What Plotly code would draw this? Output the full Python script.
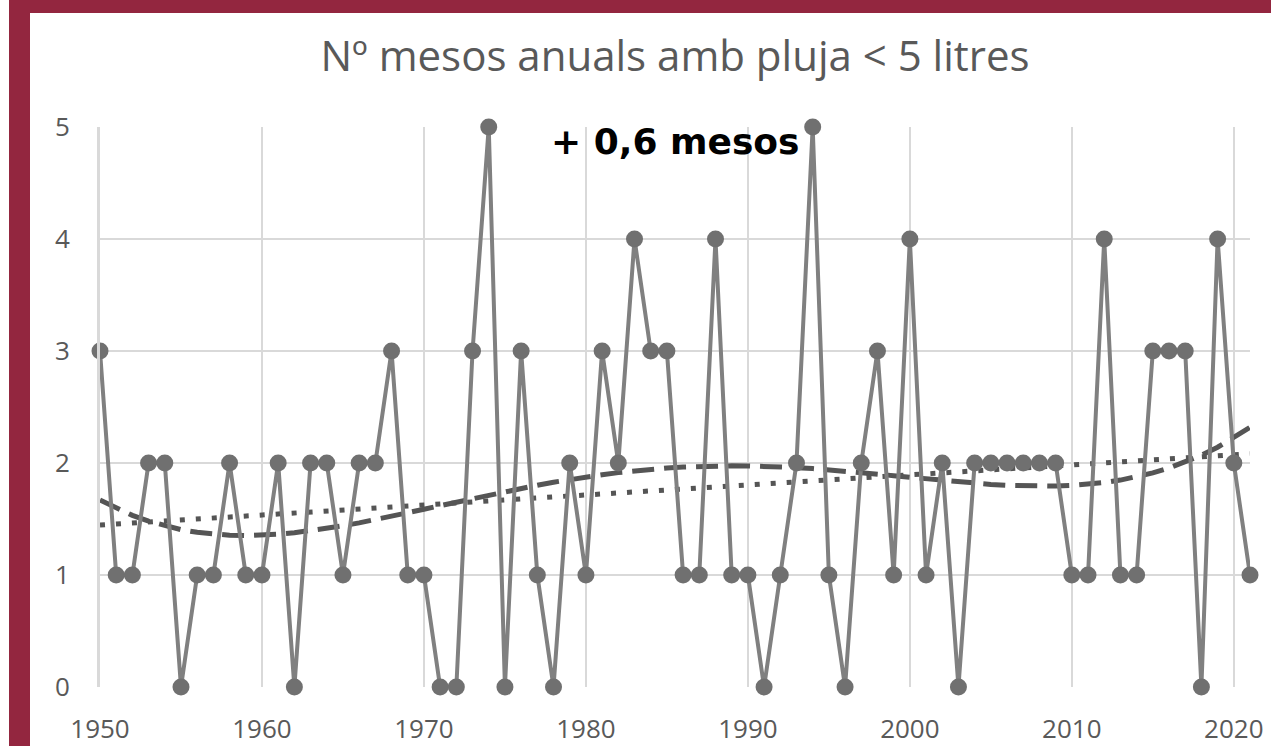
import numpy as np
import plotly.graph_objects as go

years = list(range(1950, 2022))
months_dry = [3, 1, 1, 2, 2, 0, 1, 1, 2, 1,
              1, 2, 0, 2, 2, 1, 2, 2, 3, 1,
              1, 0, 0, 3, 5, 0, 3, 1, 0, 2,
              1, 3, 2, 4, 3, 3, 1, 1, 4, 1,
              1, 0, 1, 2, 5, 1, 0, 2, 3, 1,
              4, 1, 2, 0, 2, 2, 2, 2, 2, 2,
              1, 1, 4, 1, 1, 3, 3, 3, 0, 4,
              2, 1]
x_ticks = [1950, 1960, 1970, 1980, 1990, 2000, 2010, 2020]
y_ticks = [0, 1, 2, 3, 4, 5]
title_text = "Nº mesos anuals amb pluja < 5 litres"
trend_label = "+ 0,6 mesos"

# Trendlines fitted from the data (linear and polynomial, as in the spreadsheet)
xa = np.array(years, dtype=float)
ya = np.array(months_dry, dtype=float)
xc = xa - xa.mean()
lin = np.polyval(np.polyfit(xc, ya, 1), xc)
poly = np.polyval(np.polyfit(xc, ya, 4), xc)

RED = "#93263f"
GRID = "#d9d9d9"
TXT = "#595959"
FONT = "Open Sans"

fig = go.Figure()
fig.add_trace(go.Scatter(x=years, y=lin, mode="lines",
                         line=dict(color="#555555", width=5, dash="5px,11px"),
                         hoverinfo="skip", showlegend=False))
fig.add_trace(go.Scatter(x=years, y=poly, mode="lines",
                         line=dict(color="#555555", width=5, dash="22px,10px"),
                         hoverinfo="skip", showlegend=False))
fig.add_trace(go.Scatter(x=years, y=months_dry, mode="lines+markers",
                         line=dict(color="#808080", width=4),
                         marker=dict(color="#707070", size=17),
                         cliponaxis=False, showlegend=False))

L, R, T, B = 100, 21, 127, 59
W, H = 1271, 746
pw = W - L - R
ph = H - T - B

def px_x(p):
    return (p - L) / pw

def px_y(q):
    return (H - B - q) / ph

shapes = [
    dict(type="rect", xref="paper", yref="paper", layer="below",
         x0=px_x(9), x1=px_x(30), y0=px_y(800), y1=px_y(-20),
         fillcolor=RED, line=dict(width=0)),
    dict(type="rect", xref="paper", yref="paper", layer="below",
         x0=px_x(9), x1=px_x(1300), y0=px_y(13), y1=px_y(-20),
         fillcolor=RED, line=dict(width=0)),
]

fig.update_layout(
    width=W, height=H,
    margin=dict(l=L, r=R, t=T, b=B),
    paper_bgcolor="white", plot_bgcolor="white",
    shapes=shapes,
    title=dict(text=title_text, x=675 / W, xanchor="center",
               y=1 - 56 / H, yanchor="middle",
               font=dict(family=FONT, size=42, color=TXT)),
    annotations=[dict(text="<b>" + trend_label + "</b>", xref="paper", yref="paper",
                      x=px_x(675), y=px_y(141), xanchor="center", yanchor="middle",
                      showarrow=False,
                      font=dict(family="DejaVu Sans", size=36, color="#000000"))],
    xaxis=dict(range=[1950, 2021], tickvals=x_ticks, showgrid=True,
               gridcolor=GRID, gridwidth=2, zeroline=False, showline=False,
               ticks="", ticklabelstandoff=24, automargin=False,
               tickfont=dict(family=FONT, size=26, color=TXT)),
    yaxis=dict(range=[0, 5], tickvals=y_ticks, showgrid=True,
               gridcolor=GRID, gridwidth=2, zeroline=False,
               showline=True, linecolor=GRID, linewidth=3,
               ticks="", ticklabelstandoff=22, automargin=False,
               tickfont=dict(family=FONT, size=26, color=TXT)),
)

fig.write_html("out.html", config={"displayModeBar": False},
               post_script="document.body.style.margin='0';document.body.style.overflow='hidden';")
